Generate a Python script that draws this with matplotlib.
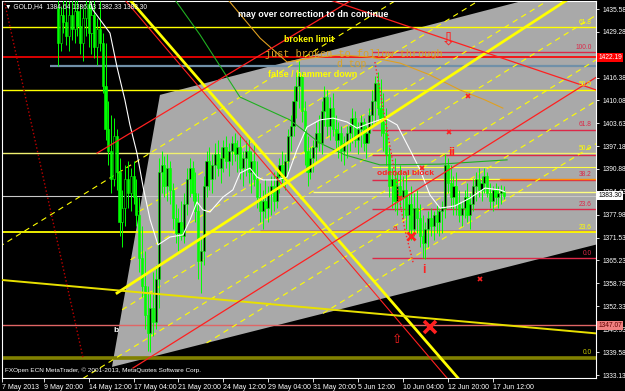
import numpy as np
import matplotlib
matplotlib.use("Agg")
import matplotlib.pyplot as plt
from matplotlib.transforms import blended_transform_factory

plt.rcParams['font.family'] = ['Liberation Sans', 'DejaVu Sans']

# ---- GOLD H4 candles, bar index counted from 7 May 2013 ----
first_bar = 20
opens = [1436, 1426, 1434, 1432, 1428, 1434, 1430, 1435, 1431, 1426,
         1433, 1437, 1429, 1434, 1425, 1430, 1426, 1414, 1402, 1396,
         1388, 1400, 1390, 1376, 1380, 1388, 1384, 1389, 1383, 1378,
         1366, 1358, 1350, 1345, 1352, 1348, 1360, 1390, 1392, 1386,
         1391, 1385, 1377, 1373, 1376, 1372, 1381, 1388, 1391, 1384,
         1379, 1365, 1368, 1386, 1393, 1388, 1392, 1395, 1391, 1394,
         1397, 1393, 1396, 1398, 1395, 1397, 1391, 1394, 1396, 1390,
         1393, 1388, 1383, 1379, 1382, 1380, 1384, 1386, 1382, 1389,
         1392, 1388, 1393, 1400, 1403, 1410, 1414, 1417, 1407, 1396,
         1390, 1394, 1397, 1401, 1398, 1407, 1411, 1403, 1408, 1402,
         1399, 1401, 1396, 1398, 1401, 1403, 1405, 1399, 1402, 1404,
         1398, 1401, 1406, 1410, 1415, 1408, 1404, 1401, 1395, 1386,
         1388, 1382, 1386, 1383, 1385, 1378, 1381, 1374, 1380, 1377,
         1372, 1370, 1374, 1377, 1375, 1378, 1376, 1379, 1380, 1392,
         1387, 1383, 1386, 1381, 1378, 1380, 1383, 1378, 1381, 1386,
         1388, 1385, 1387, 1389, 1384, 1382, 1385, 1383, 1384, 1384.64]
highs = [1440, 1436.5, 1441, 1439, 1438, 1440, 1438.5, 1439, 1437, 1436,
         1440, 1441, 1438, 1439, 1433, 1438, 1429, 1426, 1410, 1406,
         1405, 1402, 1394, 1385, 1392, 1393, 1391, 1393, 1388, 1383,
         1375, 1368, 1358, 1356, 1362, 1364, 1394, 1396, 1394.5, 1395,
         1393, 1387, 1381, 1380, 1382, 1384, 1391, 1394, 1393, 1390,
         1384, 1372, 1389, 1396, 1397, 1395, 1398, 1399, 1397, 1399,
         1400, 1398, 1400, 1401, 1399, 1400, 1396, 1399, 1400, 1396,
         1398, 1393, 1387, 1385, 1388, 1386, 1389, 1390, 1391, 1394,
         1396, 1395, 1402, 1406, 1414, 1418, 1421, 1418, 1410, 1400,
         1397, 1399, 1404, 1406, 1410, 1414, 1413, 1411, 1412, 1406,
         1404, 1403, 1400, 1403, 1405, 1408, 1407, 1404, 1406, 1405,
         1403, 1408, 1413, 1417, 1418, 1416, 1412, 1408, 1397, 1391,
         1394, 1390, 1392, 1389, 1390, 1384, 1386, 1384, 1385, 1381,
         1378, 1376, 1379, 1380, 1379, 1381, 1380, 1382, 1395, 1394,
         1392, 1389, 1390, 1385, 1382, 1385, 1387, 1384, 1388, 1390,
         1391, 1389, 1391, 1390, 1387, 1386, 1387, 1386, 1386.5, 1386.03]
lows = [1419.6, 1424, 1429, 1425.5, 1424, 1427, 1426, 1428, 1423, 1421,
        1428, 1425, 1423, 1422, 1420, 1424, 1412, 1399, 1392, 1384,
        1386, 1385, 1372, 1369, 1375, 1380, 1379, 1381, 1375, 1362,
        1355, 1346, 1340, 1339.5, 1344, 1346, 1352, 1384, 1383, 1382,
        1381, 1374, 1370, 1368, 1371, 1370, 1378, 1383, 1382, 1376,
        1360, 1356, 1364, 1383, 1385, 1384, 1388, 1389, 1387, 1390,
        1391, 1389, 1392, 1393, 1390, 1388, 1386, 1389, 1387, 1384,
        1386, 1380, 1376, 1374, 1377, 1376, 1378, 1379, 1380, 1384,
        1386, 1385, 1390, 1396, 1400, 1405, 1408, 1404, 1392, 1386,
        1388, 1390, 1393, 1396, 1395, 1403, 1400, 1399, 1400, 1396,
        1394, 1393, 1392, 1394, 1396, 1398, 1397, 1395, 1397, 1396,
        1394, 1398, 1403, 1404, 1406, 1400, 1396, 1392, 1383, 1380,
        1379, 1378, 1380, 1377, 1374, 1372, 1371, 1372, 1373, 1369,
        1366, 1365.5, 1369, 1372, 1371, 1373, 1372, 1373, 1377, 1384,
        1380, 1378, 1378, 1376, 1375, 1377, 1376, 1374, 1379, 1382,
        1383, 1382, 1384, 1383, 1380, 1379, 1381, 1380, 1381, 1382.33]
closes = [1426, 1434, 1432, 1428, 1434, 1430, 1435, 1431, 1426, 1433,
          1437, 1429, 1434, 1425, 1430, 1426, 1414, 1402, 1396, 1388,
          1400, 1390, 1376, 1380, 1388, 1384, 1389, 1383, 1378, 1366,
          1358, 1350, 1345, 1352, 1348, 1360, 1390, 1392, 1386, 1391,
          1385, 1377, 1373, 1376, 1372, 1381, 1388, 1391, 1384, 1379,
          1365, 1368, 1386, 1393, 1388, 1392, 1395, 1391, 1394, 1397,
          1393, 1396, 1398, 1395, 1397, 1391, 1394, 1396, 1390, 1393,
          1388, 1383, 1379, 1382, 1380, 1384, 1386, 1382, 1389, 1392,
          1388, 1393, 1400, 1403, 1410, 1414, 1417, 1407, 1396, 1390,
          1394, 1397, 1401, 1398, 1407, 1411, 1403, 1408, 1402, 1399,
          1401, 1396, 1398, 1401, 1403, 1405, 1399, 1402, 1404, 1398,
          1401, 1406, 1410, 1415, 1408, 1404, 1401, 1395, 1386, 1388,
          1382, 1386, 1383, 1385, 1378, 1381, 1374, 1380, 1377, 1372,
          1370, 1374, 1377, 1375, 1378, 1376, 1379, 1380, 1392, 1387,
          1383, 1386, 1381, 1378, 1380, 1383, 1378, 1381, 1386, 1388,
          1385, 1387, 1389, 1384, 1382, 1385, 1383, 1384, 1384.6, 1383.30]

time_ticks = [0, 15, 31, 47, 63, 79, 95, 111, 127, 143, 159, 175]
time_labels = ['7 May 2013', '9 May 20:00', '14 May 12:00', '17 May 04:00',
               '21 May 20:00', '24 May 12:00', '29 May 04:00', '31 May 20:00',
               '5 Jun 12:00', '10 Jun 04:00', '12 Jun 20:00', '17 Jun 12:00']
price_ticks = [1435.58, 1429.28, 1416.38, 1410.08, 1403.63, 1397.18, 1390.88,
               1384.43, 1377.98, 1371.53, 1365.23, 1358.78, 1352.33, 1345.93,
               1339.58, 1333.13]

# moving averages (bar, price)
white_ma_bars = [31.5, 32.5, 38.6, 41.1, 43.9, 45.7, 48.2, 50.4, 52.9, 55.7, 60.0,
                 64.6, 67.1, 69.6, 71.7, 74.2, 78.9, 82.4, 84.9, 88.5, 91.0, 93.1,
                 98.1, 101.7, 105.2, 108.8, 113.4, 118.1, 123.1, 126.6, 131.3,
                 136.6, 140.9, 145.5, 149.1, 152.6, 156.2, 161.5, 166.9, 172.2,
                 177.6, 179.4]
white_ma = [1438.2, 1435.4, 1428.9, 1419.4, 1410.2, 1403.2, 1395.3, 1385.8, 1376.6,
            1369.6, 1371.8, 1372.4, 1376.6, 1381.6, 1379.4, 1378.8, 1383.0, 1385.0,
            1389.7, 1391.1, 1388.6, 1387.8, 1387.8, 1388.6, 1396.2, 1402.6, 1404.6,
            1405.1, 1404.0, 1402.3, 1403.7, 1405.1, 1403.2, 1396.2, 1390.6, 1383.6,
            1379.9, 1380.5, 1382.7, 1385.5, 1385.0, 1384.4]
green_ma_bars = [61.8, 70.7, 84.9, 102.7, 113.4, 122.3, 134.8, 156.2, 180.1]
green_ma = [1438.2, 1428.4, 1411.0, 1404.6, 1398.1, 1394.8, 1392.0, 1392.2, 1393.4]
orange_ma_bars = [80.7, 92.1, 101.7, 109.9, 120.6, 131.3, 142.0, 152.6, 163.3, 172.2, 178.6]
orange_ma = [1438.2, 1427.5, 1420.8, 1421.9, 1422.8, 1422.2, 1420.5, 1417.2, 1413.0,
             1410.2, 1407.9]

# grey channel object
shade_bars = [39.3, 56.4, 212.5, 212.5]
shade_prices = [1335.4, 1411.6, 1443.4, 1369.8]

# horizontal levels: price and bar where the object starts
level_prices = [1430.6, 1423.6, 1422.19, 1419.7, 1413.0, 1401.8, 1395.3, 1394.8,
                1391.4, 1387.8, 1384.4, 1383.30, 1379.6, 1373.6, 1373.2, 1365.9,
                1347.07, 1338.0]
level_starts = [-1, 132, -1, 17.2, -1, 132, -1, 132,
                132, 132, 110.9, -1, 132, 92, -1, 132,
                -1, -1]
crimson = '#dc2848'
level_colors = ['#ffff00', crimson, '#ff0000', '#7090a8', '#ffff00', crimson, '#f0f070', crimson,
                '#ffff40', crimson, '#ffff80', '#c8c8c8', crimson, '#c00000', '#ffff00', crimson,
                '#e06666', '#808000']
level_widths = [1.0, 1.0, 1.2, 1.6, 1.0, 1.0, 1.0, 1.0,
                0.8, 1.0, 1.0, 0.8, 1.0, 1.0, 1.3, 1.0,
                1.0, 2.6]
seg_prices = [1388.1, 1388.1]
seg_from = [143, 177.6]
seg_to = [177.6, 212]
seg_colors = ['#ffff40', '#ff8c00']

fib_texts = ['61.8', '100.0', '50.0', '61.8', '50.0', '38.2', '23.6', '23.6', '0.0', '0.0']
fib_prices = [1430.6, 1423.6, 1413.0, 1401.8, 1395.3, 1387.8, 1379.6, 1373.2, 1365.9, 1338.0]
fib_colors = ['#ffff00', crimson, '#ffff00', crimson, '#ffff00', crimson, crimson,
              '#ffff00', crimson, '#c8c800']

# trend lines (bar0, price0, bar1, price1)
trend_x0 = [45.7, 43.9, 41.1, -0.6, 46.8, 34.0, 117.0]
trend_y0 = [1438.2, 1438.2, 1356.1, 1359.8, 1335.1, 1395.3, 1438.2]
trend_x1 = [162.6, 158.7, 201.5, 211.8, 211.8, 124.8, 211.8]
trend_y1 = [1332.3, 1332.3, 1438.2, 1344.8, 1416.5, 1438.2, 1413.0]
trend_colors = ['#ffff00', '#ff2020', '#ffff00', '#e8e000', '#ff2020', '#ff2020', '#ff2020']
trend_widths = [2.0, 0.8, 2.0, 1.4, 0.9, 0.9, 0.9]

# dashed parallel channel lines
dash_x0 = [114.5, 73, 29.0, 42.9, 45.9, 48.9, -1]
dash_y0 = [1350.4, 1342.1, 1332.2, 1351.4, 1365.4, 1378.9, 1369.0]
dash_x1 = [212, 212, 212, 212, 212, 212, 212]
dash_y1 = [1398.0, 1410.0, 1421.5, 1434.0, 1446.5, 1458.5, 1473.0]

zig_bars = [133.0, 143.7, 146.6]
zig_prices = [1420.8, 1373.8, 1364.7]
left_dot_bars = [0.85, 29.0]
left_dot_prices = [1438.2, 1337.9]

# ---- figure ----
fig = plt.figure(figsize=(6.25, 3.91), dpi=100, facecolor='black')
ax = fig.add_axes([1.7 / 625, 13 / 391, 594.3 / 625, 377 / 391])
ax.set_facecolor('black')
ax.set_xlim(0, 211.8)
ax.set_ylim(1332.3, 1437.9)

ax.fill(shade_bars, shade_prices, color='#a9a9a9', lw=0, zorder=1)

for p, x0, col, lw in zip(level_prices, level_starts, level_colors, level_widths):
    ax.plot([x0, 212], [p, p], color=col, lw=lw, zorder=2, solid_capstyle='butt')
for p, x0, x1, col in zip(seg_prices, seg_from, seg_to, seg_colors):
    ax.plot([x0, x1], [p, p], color=col, lw=1.0, zorder=2.1)

for x0, y0, x1, y1 in zip(dash_x0, dash_y0, dash_x1, dash_y1):
    ax.plot([x0, x1], [y0, y1], color='#ffff00', lw=0.8, ls=(0, (5, 4)), zorder=2.2)

# candles
bars = np.arange(first_bar, first_bar + len(opens))
o = np.array(opens)
h = np.array(highs)
l = np.array(lows)
c = np.array(closes)
up = c >= o
ax.vlines(bars, l, h, color='#00ff00', lw=0.7, zorder=3)
ax.bar(bars, np.maximum(np.abs(c - o), 0.3), bottom=np.minimum(o, c), width=0.75,
       color=np.where(up, 'black', '#00ff00'), edgecolor='#00ff00', lw=0.4, zorder=3.1)

ax.plot(white_ma_bars, white_ma, color='white', lw=0.8, zorder=4)
ax.plot(green_ma_bars, green_ma, color='#20b020', lw=0.8, zorder=4)
ax.plot(orange_ma_bars, orange_ma, color='#e0a020', lw=0.8, zorder=4)

for x0, y0, x1, y1, col, lw in zip(trend_x0, trend_y0, trend_x1, trend_y1,
                                  trend_colors, trend_widths):
    ax.plot([x0, x1], [y0, y1], color=col, lw=lw, zorder=4.2)

ax.plot(zig_bars, zig_prices, color='#ff2020', lw=1.0, ls=':', zorder=4.3)
ax.plot(left_dot_bars, left_dot_prices, color='#c00000', lw=1.0, ls=':', zorder=4.3)

for t, p, col in zip(fib_texts, fib_prices, fib_colors):
    ax.text(210.3, p + 0.4, t, color=col, fontsize=4.8, ha='right', va='bottom', zorder=5)

# annotations
ax.text(84.2, 1434.0, 'may over correction to dn continue', color='white',
        fontsize=6.4, fontweight='bold', va='center', zorder=6)
ax.text(100.6, 1427.0, 'broken limit', color='#ffff00', fontsize=6.3,
        fontweight='bold', va='center', zorder=6)
ax.text(93.8, 1423.1, 'just broken to follow through', color='#d9a326',
        fontsize=7.4, family='Liberation Mono', va='center', zorder=6)
ax.text(119.5, 1420.2, 'd top', color='#d9a326', fontsize=7.0,
        family='Liberation Mono', va='center', zorder=6)
ax.text(94.9, 1417.2, 'false / hammer down', color='#ffff00', fontsize=6.5,
        fontweight='bold', va='center', zorder=6)
ax.text(133.7, 1389.7, 'odendal block', color='#ff2020', fontsize=6,
        fontweight='bold', va='center', zorder=6)
ax.text(160.5, 1395.3, 'ii', color='#ff2020', fontsize=9, fontweight='bold',
        ha='center', va='center', zorder=6)
ax.text(150.5, 1362.6, 'i', color='#ff2020', fontsize=8.5, fontweight='bold',
        ha='center', va='center', zorder=6)
ax.text(140.2, 1374.3, 'a', color='#ff2020', fontsize=6, ha='center', va='center', zorder=6)
ax.text(40.7, 1345.5, 'b', color='white', fontsize=6, fontweight='bold',
        ha='center', va='center', zorder=6)
ax.text(159.4, 1427.0, '\u21e9', color='#ff2020', fontsize=13, family='DejaVu Sans',
        ha='center', va='center', zorder=6)
ax.text(140.9, 1343.0, '\u21e7', color='#ff2020', fontsize=9, family='DejaVu Sans',
        ha='center', va='center', zorder=6)

big_x_bars = [152.6, 145.9]
big_x_prices = [1346.6, 1372.1]
ax.plot(big_x_bars[:1], big_x_prices[:1], 'x', color='#ff2020', ms=9, mew=2.6, zorder=6)
ax.plot(big_x_bars[1:], big_x_prices[1:], 'x', color='#ff2020', ms=6, mew=2.0, zorder=6)
small_x_bars = [166.2, 159.4, 170.5, 149.8, 142.0]
small_x_prices = [1411.3, 1401.2, 1360.1, 1391.1, 1382.7]
ax.plot(small_x_bars, small_x_prices, 'x', color='#ff2020', ms=3, mew=1.2, ls='none', zorder=6)

ax.text(0.0056, 0.984, '\u25bc GOLD,H4  1384.64 1386.03 1382.33 1383.30', color='white',
        fontsize=4.8, transform=ax.transAxes, va='center', zorder=7)
ax.text(0.0056, 0.021, 'FXOpen ECN MetaTrader, \u00a9 2001-2013, MetaQuotes Software Corp.',
        color='white', fontsize=4.6, transform=ax.transAxes, va='center', zorder=7)

# axes
for sp in ax.spines.values():
    sp.set_color('white')
    sp.set_linewidth(0.8)
ax.yaxis.tick_right()
ax.set_yticks(price_ticks)
ax.set_yticklabels([f'{p:.2f}' for p in price_ticks])
ax.tick_params(axis='y', colors='white', labelsize=4.8, length=2.5, width=0.6, pad=2)
ax.set_xticks(time_ticks)
ax.set_xticklabels(time_labels)
ax.tick_params(axis='x', colors='white', labelsize=5, length=3, width=0.6, pad=1)
for lab in ax.get_xticklabels():
    lab.set_ha('left')

# price boxes on the right scale
box_prices = [1422.19, 1383.30, 1347.07]
box_faces = ['#ff0000', 'white', '#f08080']
box_text = ['white', 'black', '#600000']
tr = blended_transform_factory(ax.transAxes, ax.transData)
for p, fc, tc in zip(box_prices, box_faces, box_text):
    ax.text(1.004, p, f'{p:.2f}', transform=tr, color=tc, fontsize=4.8, va='center',
            ha='left', clip_on=False, zorder=10,
            bbox=dict(boxstyle='square,pad=0.15', fc=fc, ec='none'))

fig.savefig('out.png', dpi=100, facecolor='black')
